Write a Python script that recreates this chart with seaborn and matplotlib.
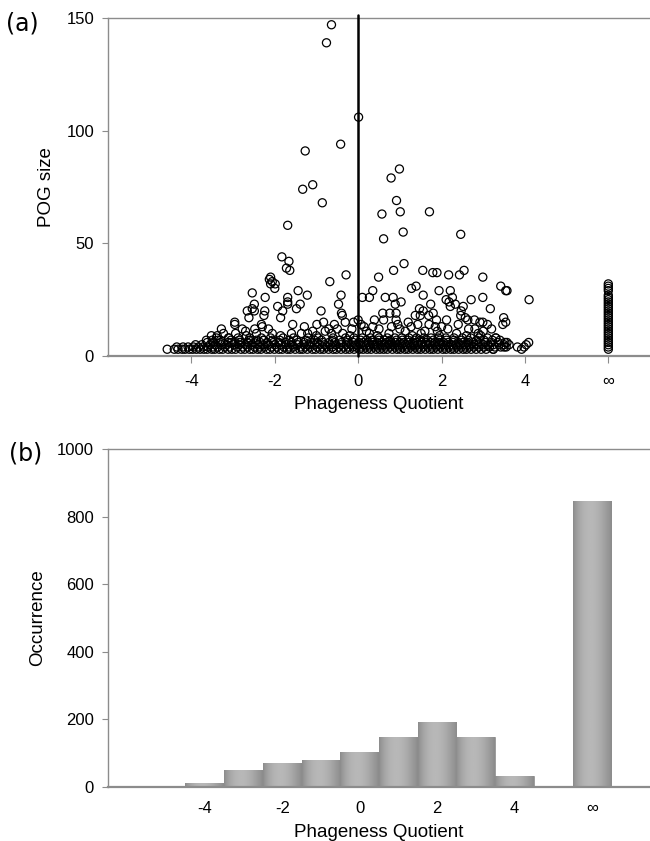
import numpy as np
import pandas as pd
import matplotlib
matplotlib.use("Agg")
import matplotlib.pyplot as plt
import seaborn as sns

# ---- panel (a): POG size vs phageness quotient ----
# dense band at the bottom, one list of quotients per POG size
q_size3 = [-4.58, -4.41, -4.32, -4.22, -4.15, -4.05, -3.97, -3.88, -3.79, -3.7, -3.62, -3.51, -3.44,
           -3.33, -3.25, -3.12, -3.03, -2.94, -2.81, -2.72, -2.6, -2.52, -2.41, -2.33, -2.2, -2.12,
           -2.01, -1.9, -1.82, -1.7, -1.63, -1.51, -1.4, -1.33, -1.22, -1.1, -1.02, -0.91, -0.83,
           -0.71, -0.6, -0.52, -0.41, -0.3, -0.21, -0.1, 0.03, 0.12, 0.22, 0.31, 0.43, 0.52, 0.61,
           0.7, 0.82, 0.93, 1.01, 1.12, 1.2, 1.31, 1.42, 1.5, 1.61, 1.72, 1.8, 1.91, 2.03, 2.11,
           2.22, 2.3, 2.41, 2.52, 2.6, 2.71, 2.83, 2.95, 3.07, 3.24]
q_size4 = [-4.35, -4.2, -4.08, -3.95, -3.83, -3.72, -3.6, -3.48, -3.37, -3.2, -3.08, -2.9, -2.77,
           -2.65, -2.48, -2.36, -2.25, -2.08, -1.95, -1.78, -1.66, -1.55, -1.38, -1.26, -1.15,
           -0.98, -0.86, -0.75, -0.62, -0.46, -0.35, -0.24, -0.12, -0.04, 0.08, 0.18, 0.27, 0.38,
           0.47, 0.57, 0.66, 0.77, 0.88, 0.97, 1.06, 1.17, 1.27, 1.36, 1.46, 1.57, 1.67, 1.77,
           1.87, 1.97, 2.07, 2.17, 2.27, 2.37, 2.47, 2.57, 2.67, 2.78, 2.9, 3.02, 3.15, 3.28,
           3.42, 3.55]
q_size5 = [-3.9, -3.75, -3.55, -3.42, -3.28, -3.15, -2.98, -2.85, -2.7, -2.55, -2.4, -2.28, -2.15,
           -2.0, -1.86, -1.72, -1.58, -1.45, -1.3, -1.18, -1.05, -0.92, -0.8, -0.66, -0.54,
           -0.42, -0.28, -0.16, -0.05, 0.05, 0.15, 0.25, 0.36, 0.45, 0.55, 0.64, 0.74, 0.85,
           0.95, 1.04, 1.14, 1.24, 1.33, 1.43, 1.53, 1.63, 1.72, 1.83, 1.94, 2.04, 2.14, 2.25,
           2.35, 2.45, 2.55, 2.66, 2.78, 2.88, 3.0, 3.12, 3.24, 3.38, 3.5, 3.62]
q_size6 = [-3.62, -3.48, -3.3, -3.12, -2.96, -2.82, -2.66, -2.5, -2.35, -2.18, -2.03, -1.9, -1.74,
           -1.6, -1.44, -1.3, -1.14, -0.98, -0.85, -0.7, -0.56, -0.4, -0.26, -0.12, 0.02, 0.13,
           0.24, 0.35, 0.46, 0.58, 0.68, 0.79, 0.9, 1.0, 1.1, 1.21, 1.31, 1.41, 1.52, 1.62, 1.73,
           1.84, 1.95, 2.05, 2.16, 2.28, 2.4, 2.51, 2.63, 2.76, 2.9, 3.05, 3.2, 3.36, 3.52]
q_size7 = [-3.5, -3.3, -3.05, -2.85, -2.62, -2.44, -2.27, -2.05, -1.88, -1.66, -1.47, -1.25, -1.05,
           -0.88, -0.62, -0.45, -0.25, -0.08, 0.06, 0.2, 0.34, 0.5, 0.63, 0.77, 0.92, 1.06, 1.2,
           1.35, 1.5, 1.66, 1.8, 1.96, 2.12, 2.3, 2.48, 2.64, 2.84, 3.02, 3.22, 3.4]
q_size8 = [-3.4, -3.1, -2.88, -2.6, -2.32, -2.1, -1.8, -1.55, -1.2, -0.95, -0.6, -0.3, -0.1, 0.1,
           0.3, 0.5, 0.7, 0.88, 1.05, 1.22, 1.4, 1.58, 1.75, 1.92, 2.1, 2.3, 2.5, 2.7, 2.9, 3.1, 3.3]

# scattered points above the band
sparse_q = [-0.64, -0.76, 0.01, -0.42, -1.27, 0.99, 0.79, -1.09, -1.33, 0.92, -0.86, 1.01, 0.57,
            1.71, -1.69, 1.08, 2.46, 0.61, -1.83, -1.66, -1.72, -1.64, 1.10, 0.85, 1.55, 1.79,
            1.89, 2.17, 2.43, 2.54, -0.29, 0.49, 2.99, -0.68, -2.10, -2.13, -2.06, -1.99, -2.10,
            -2.00, 3.42, 3.54, 3.57, 1.28, 1.39, 0.35, 1.94, 2.21, -1.44, -2.54, -1.22, -0.41,
            0.10, 0.27, 0.65, 0.84, 1.56, 2.99, 4.10, -2.23, -1.69, 2.11, 2.26, 2.71, 0.89, 1.03,
            -0.47, -1.69, -1.69, -1.39, 1.74, 2.33, 2.21, 2.52, 2.18, -2.49, -1.93, -2.54, 3.17,
            -1.48, 1.47, 1.56, -2.66, -2.49, -2.24, -1.81, 2.47, -0.89, -2.62, -2.26, 1.80, 3.49,
            -0.40, -0.38, 0.76, 0.91, 0.59, 1.37, 1.49, 1.69, 2.46, 2.57, -1.86, -2.96, -2.96,
            2.99, 3.10, 3.54, 3.47, -0.31, 0.00, 0.39, 0.61, 0.91, 1.88, 2.12, 2.63, 2.79, 2.92,
            -1.57, -1.29, -0.99, -0.83, -0.57, -0.11, 0.07, 0.14, -3.28, -3.23, -2.78, -2.48,
            -2.32, -2.30, -2.15, -1.09, -0.79, -0.37, -0.15, 1.13, 1.27, 1.43, 1.85, 2.15, 2.36,
            3.20, 2.65, 2.88, -3.52, -3.38, -3.11, -2.94, -2.68, -2.44, -2.06, -1.86, -1.60,
            -1.36, -1.21, -0.64, 0.27, 0.46, 0.74, 1.51, 1.95, 2.60, 2.94, 3.30, -3.64, -3.36,
            -3.04, -2.84, -2.58, -2.26, 3.57, 4.03, 4.09, 3.82, 3.98, 3.92, 3.50, 3.24,
            0.2, 0.5, 0.8, 1.0, 1.6, 1.3, -0.5, 0.95, 1.2, 1.7, 2.0, 2.4, -1.0, -0.2, 0.35, 1.9,
            2.8, 3.0, -0.7, -2.7]
sparse_size = [147, 139, 106, 94, 91, 83, 79, 76, 74, 69, 68, 64, 63,
               64, 58, 55, 54, 52, 44, 42, 39, 38, 41, 38, 38, 37,
               37, 36, 36, 38, 36, 35, 35, 33, 35, 34, 33, 32, 32,
               30, 31, 29, 29, 30, 31, 29, 29, 29, 29, 28, 27, 27,
               26, 26, 26, 26, 27, 26, 25, 26, 26, 25, 26, 25, 23, 24,
               23, 24, 23, 23, 23, 23, 22, 22, 24, 23, 22, 21, 21,
               21, 21, 20, 20, 20, 20, 20, 20, 20, 17, 18, 19, 17,
               19, 18, 19, 19, 19, 18, 18, 18, 18, 17, 17, 15, 14,
               15, 14, 15, 14, 15, 16, 16, 16, 16, 16, 16, 16, 16, 15,
               14, 13, 14, 15, 14, 15, 14, 13, 12, 10, 12, 12,
               14, 13, 12, 11, 11, 10, 12, 11, 13, 14, 13, 12, 10,
               12, 12, 10, 9, 9, 8, 10, 9, 10, 10, 9, 10,
               10, 10, 10, 10, 9, 10, 10, 9, 9, 9, 8, 7, 7,
               6, 6, 7, 7, 6, 5, 6, 4, 4, 3, 4, 3,
               11, 12, 13, 12, 11, 9, 12, 14, 15, 14, 13, 14, 9, 9, 13, 11,
               12, 11, 12, 11]

# POGs with infinite quotient, drawn at the "inf" tick
inf_size = [3, 4, 5, 6, 7, 8, 9, 10, 11, 12, 13, 14, 15, 16, 17, 18, 19, 20, 21, 22, 23, 24,
            25, 26, 27, 29, 30, 31, 32]
inf_pos = 6

x_ticks = [-4, -2, 0, 2, 4, 6]
x_ticklabels = ["-4", "-2", "0", "2", "4", "∞"]

# ---- panel (b): histogram of quotients ----
bins = ["-6", "-5", "-4", "-3", "-2", "-1", "0", "1", "2", "3", "4", "5", "∞"]
counts = [0, 0, 12, 50, 71, 79, 103, 148, 192, 147, 32, 3, 845]
bar_ticklabels = ["-4", "-2", "0", "2", "4", "∞"]

# build the scatter table
qs, sizes = [], []
for s, lst in zip([3, 4, 5, 6, 7, 8], [q_size3, q_size4, q_size5, q_size6, q_size7, q_size8]):
    qs += lst
    sizes += [s] * len(lst)
qs += sparse_q
sizes += sparse_size
qs += [inf_pos] * len(inf_size)
sizes += inf_size
df_a = pd.DataFrame({"quotient": qs, "pog": sizes})
df_b = pd.DataFrame({"bin": bins, "count": counts})

sns.set_style("white")
plt.rcParams["font.family"] = ["Liberation Sans", "DejaVu Sans"]
plt.rcParams["text.color"] = "black"
plt.rcParams["axes.labelcolor"] = "black"
plt.rcParams["xtick.labelcolor"] = "black"
plt.rcParams["ytick.labelcolor"] = "black"

fig = plt.figure(figsize=(6.5, 8.41), dpi=100)
ax1 = fig.add_axes([108 / 650, 1 - 356 / 841, 542 / 650, 338 / 841])
ax2 = fig.add_axes([108 / 650, 1 - 787 / 841, 542 / 650, 338 / 841])

axis_grey = "#8c8c8c"

# panel (a)
sns.scatterplot(data=df_a, x="quotient", y="pog", ax=ax1, s=34, marker="o",
                facecolor="none", edgecolor="black", linewidth=0.9, zorder=3)
ax1.axvline(0, ymin=0, ymax=1.01, color="black", lw=1.8, clip_on=False, zorder=4)
ax1.set_xlim(-6, 7)
ax1.set_ylim(0, 150)
ax1.set_yticks([0, 50, 100, 150])
ax1.set_xticks(x_ticks)
ax1.set_xticklabels(x_ticklabels)
ax1.set_xlabel("Phageness Quotient", fontsize=13.5, labelpad=5)
ax1.set_ylabel("POG size", fontsize=13.5, labelpad=8)

# panel (b)
sns.barplot(data=df_b, x="bin", y="count", order=bins, ax=ax2, width=1.0,
            color="#a6a6a6", edgecolor="#8a8a8a", linewidth=0.5, zorder=2)
# cylinder-like shading on every bar
prof = np.linspace(0, 1, 64)
shade = 0.55 + 0.17 * np.sin(np.pi * prof ** 0.85)
grad = np.tile(shade, (2, 1))
for p in ax2.patches:
    x0, y0 = p.get_x(), p.get_y()
    w, h = p.get_width(), p.get_height()
    if h <= 0:
        continue
    im = ax2.imshow(grad, cmap="gray", vmin=0, vmax=1, aspect="auto",
                    extent=[x0, x0 + w, y0, y0 + h], zorder=2.5, interpolation="bilinear")
    im.set_clip_path(p)
ax2.set_xlim(-0.5, 13.5)
ax2.set_ylim(0, 1000)
ax2.set_yticks([0, 200, 400, 600, 800, 1000])
ax2.set_xticks([bins.index(t) for t in bar_ticklabels])
ax2.set_xticklabels(bar_ticklabels)
ax2.tick_params(axis="x", length=0, pad=10)
ax2.set_xlabel("Phageness Quotient", fontsize=13.5, labelpad=6)
ax2.set_ylabel("Occurrence", fontsize=13.5, labelpad=8)

for ax in (ax1, ax2):
    for side in ("left", "top", "bottom"):
        ax.spines[side].set_color(axis_grey)
        ax.spines[side].set_linewidth(1.0)
    ax.spines["bottom"].set_linewidth(1.6)
    ax.spines["right"].set_visible(False)
    ax.tick_params(axis="y", length=4, color=axis_grey, labelsize=12, pad=6, left=True)
    ax.tick_params(axis="x", labelsize=12, color=axis_grey)
ax1.tick_params(axis="x", length=5, pad=8, bottom=True)

fig.text(22 / 650, 1 - 24 / 841, "(a)", fontsize=17, family="DejaVu Sans", ha="center", va="center")
fig.text(26 / 650, 1 - 453 / 841, "(b)", fontsize=17, family="DejaVu Sans", ha="center", va="center")

fig.savefig("out.png", dpi=100)
